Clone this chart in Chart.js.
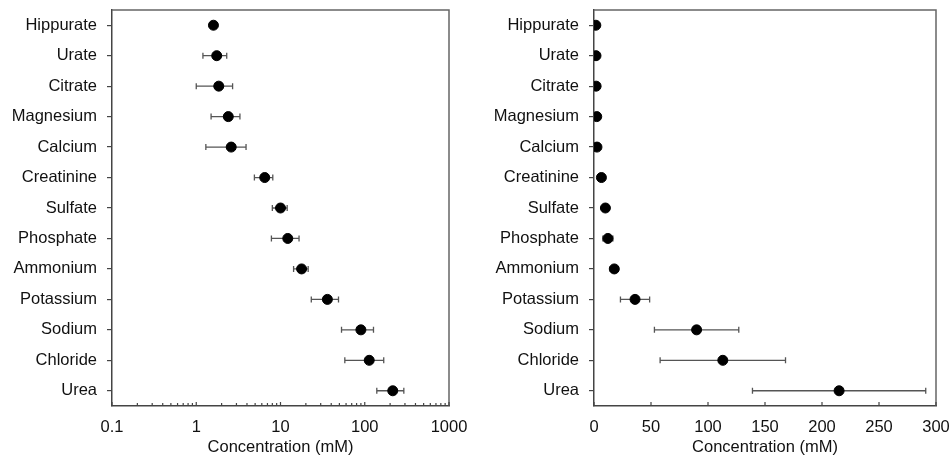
<!DOCTYPE html>
<html>
<head>
<meta charset="utf-8">
<script src="https://cdn.jsdelivr.net/npm/chart.js@4.4.1/dist/chart.umd.min.js"></script>
<style>
  body { margin: 0; background: #fff; }
  .panel { position: absolute; top: 0; width: 476px; height: 457px; }
</style>
</head>
<body>
<div class="panel" style="left:0"><canvas id="graficoLog" width="476" height="457"></canvas></div>
<div class="panel" style="left:476px"><canvas id="graficoLinear" width="476" height="457"></canvas></div>
<script>
const componentes = ['Hippurate', 'Urate', 'Citrate', 'Magnesium', 'Calcium', 'Creatinine', 'Sulfate',
  'Phosphate', 'Ammonium', 'Potassium', 'Sodium', 'Chloride', 'Urea'];
const media = [1.6, 1.75, 1.85, 2.4, 2.6, 6.5, 10, 12.2, 17.8, 36, 90, 113, 215];
const desvio = [0.12, 0.55, 0.85, 0.9, 1.3, 1.6, 2, 4.4, 3.5, 12.8, 37, 55, 76];
const ticksLog = [0.1, 1, 10, 100, 1000];
const ticksLinear = [0, 50, 100, 150, 200, 250, 300];

const fonte = { family: 'Liberation Sans, Arial, sans-serif', size: 16.5 };
const corTexto = '#111';
const corEixo = '#444';

// zera o espaço extra que o Chart.js reserva para os rótulos das pontas
function semSobra(scale) {
  scale.paddingLeft = 0;
  scale.paddingRight = 0;
  scale.paddingTop = 0;
  scale.paddingBottom = 0;
}

// barras de erro, moldura e ticks internos
const extras = {
  id: 'extras',
  beforeDatasetsDraw(chart) {
    const ctx = chart.ctx;
    const x = chart.scales.x;
    const pts = chart.getDatasetMeta(0).data;
    ctx.save();
    ctx.strokeStyle = '#555';
    ctx.lineWidth = 1.3;
    pts.forEach((p, i) => {
      const x1 = x.getPixelForValue(media[i] - desvio[i]);
      const x2 = x.getPixelForValue(media[i] + desvio[i]);
      ctx.beginPath();
      ctx.moveTo(x1, p.y); ctx.lineTo(x2, p.y);
      ctx.moveTo(x1, p.y - 3); ctx.lineTo(x1, p.y + 3);
      ctx.moveTo(x2, p.y - 3); ctx.lineTo(x2, p.y + 3);
      ctx.stroke();
    });
    ctx.restore();
  },
  afterDraw(chart) {
    const ctx = chart.ctx;
    const { left, right, top, bottom } = chart.chartArea;
    const x = chart.scales.x;
    ctx.save();
    ctx.strokeStyle = '#666';
    ctx.lineWidth = 1.5;
    ctx.beginPath();
    ctx.moveTo(left, top); ctx.lineTo(right, top); ctx.lineTo(right, bottom);
    ctx.stroke();
    ctx.strokeStyle = corEixo;
    ctx.lineWidth = 1.2;
    ctx.beginPath();
    x.ticks.forEach(t => {
      const px = x.getPixelForValue(t.value);
      ctx.moveTo(px, bottom); ctx.lineTo(px, bottom - 4);
    });
    if (x.type === 'logarithmic') {
      for (let e = -1; e < 3; e++) {
        for (let d = 2; d <= 9; d++) {
          const px = x.getPixelForValue(d * Math.pow(10, e));
          ctx.moveTo(px, bottom); ctx.lineTo(px, bottom - 3);
        }
      }
    }
    ctx.stroke();
    ctx.restore();
  }
};

function criarGrafico(id, tipo, valoresTick, larguraY, padDireita) {
  const eixoX = {
    type: tipo,
    min: valoresTick[0],
    max: valoresTick[valoresTick.length - 1],
    afterBuildTicks: scale => { scale.ticks = valoresTick.map(v => ({ value: v })); },
    afterFit: scale => { scale.height = 51; semSobra(scale); },
    grid: { display: false, drawTicks: false },
    border: { display: true, color: corEixo, width: 1.5 },
    ticks: {
      font: fonte, color: corTexto, padding: 12, maxRotation: 0, autoSkip: false,
      callback: v => String(v)
    },
    title: { display: true, text: 'Concentration (mM)', font: fonte, color: corTexto, padding: { top: 0, bottom: 0 } }
  };
  return new Chart(document.getElementById(id), {
    type: 'scatter',
    data: {
      datasets: [{
        data: componentes.map((c, i) => ({ x: media[i], y: c })),
        backgroundColor: '#000',
        borderColor: '#000',
        pointRadius: 5,
        pointHoverRadius: 5
      }]
    },
    options: {
      responsive: false,
      animation: false,
      layout: { padding: { top: 10, right: padDireita, bottom: 0, left: 0 } },
      plugins: { legend: { display: false }, tooltip: { enabled: false } },
      scales: {
        x: eixoX,
        y: {
          type: 'category',
          labels: componentes,
          offset: true,
          afterFit: scale => { scale.width = larguraY; semSobra(scale); },
          grid: { display: true, drawOnChartArea: false, drawTicks: true, tickLength: 5, offset: false, color: corEixo, lineWidth: 1.2 },
          border: { display: true, color: corEixo, width: 1.5 },
          ticks: { font: fonte, color: corTexto, padding: 10 }
        }
      }
    },
    plugins: [extras]
  });
}

criarGrafico('graficoLog', 'logarithmic', ticksLog, 112, 27);
criarGrafico('graficoLinear', 'linear', ticksLinear, 118, 16);
</script>
</body>
</html>
